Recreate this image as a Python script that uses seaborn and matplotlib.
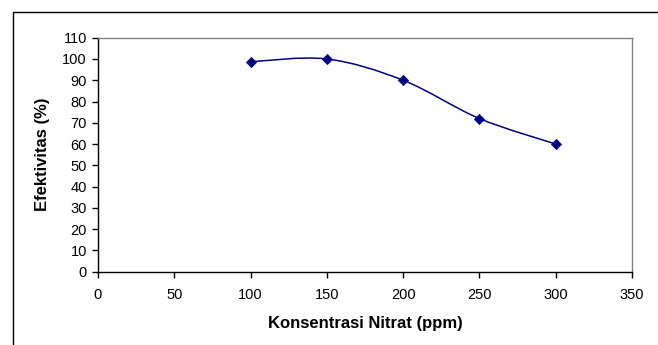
import numpy as np
import pandas as pd
import matplotlib
matplotlib.use("Agg")
import matplotlib.pyplot as plt
import seaborn as sns
from matplotlib.path import Path
from matplotlib.patches import PathPatch
from matplotlib.lines import Line2D

konsentrasi = [100, 150, 200, 250, 300]
efektivitas = [98.7, 100.0, 90.0, 72.0, 60.0]
x_ticks = [0, 50, 100, 150, 200, 250, 300, 350]
y_ticks = [0, 10, 20, 30, 40, 50, 60, 70, 80, 90, 100, 110]

sns.set_theme(style="white")
plt.rcParams['font.family'] = ['Liberation Sans', 'DejaVu Sans']
plt.rcParams['text.color'] = 'black'
plt.rcParams['axes.labelcolor'] = 'black'

df = pd.DataFrame({"Konsentrasi": konsentrasi, "Efektivitas": efektivitas})

fig = plt.figure(figsize=(6.58, 3.45), dpi=100)
ax = fig.add_axes([98/658, 1-271.7/345, 534/658, 234/345])

# smoothed curve (Excel-style Bezier through the points)
P = np.column_stack([konsentrasi, efektivitas]).astype(float)
n = len(P)
verts = [tuple(P[0])]
codes = [Path.MOVETO]
for i in range(n - 1):
    p0 = P[i - 1] if i > 0 else P[i]
    p1 = P[i]
    p2 = P[i + 1]
    p3 = P[i + 2] if i + 2 < n else P[i + 1]
    c1 = p1 + (p2 - p0) / 6
    c2 = p2 - (p3 - p1) / 6
    verts += [tuple(c1), tuple(c2), tuple(p2)]
    codes += [Path.CURVE4] * 3
ax.add_patch(PathPatch(Path(verts, codes), facecolor='none', edgecolor='#000080', lw=1.1, zorder=2))

sns.scatterplot(data=df, x="Konsentrasi", y="Efektivitas", marker='D', s=28,
                color='#000080', edgecolor='#000080', ax=ax, zorder=3, legend=False)

ax.set_xlim(0, 350)
ax.set_ylim(0, 110)
ax.set_xticks(x_ticks)
ax.set_yticks(y_ticks)
ax.set_xticklabels([str(v) for v in x_ticks], fontsize=10.5, color='black')
ax.set_yticklabels([str(v) for v in y_ticks], fontsize=10.5, color='black')
ax.tick_params(axis='both', direction='out', length=4, width=1, color='black',
               bottom=True, left=True)
ax.tick_params(axis='y', pad=4)
ax.tick_params(axis='x', pad=8)

ax.set_xlabel("Konsentrasi Nitrat (ppm)", fontsize=12, fontweight='bold', color='black')
ax.set_ylabel("Efektivitas (%)", fontsize=12, fontweight='bold', color='black')
ax.xaxis.set_label_coords(0.5, -0.19)
ax.yaxis.set_label_coords(-0.09, 0.5)

for s in ['left', 'bottom']:
    ax.spines[s].set_color('black')
    ax.spines[s].set_linewidth(1)
for s in ['top', 'right']:
    ax.spines[s].set_color('#808080')
    ax.spines[s].set_linewidth(1)
ax.grid(False)

# outer chart border (top and left visible)
fig.add_artist(Line2D([12.5/658, 12.5/658], [0, 1-11.5/345], transform=fig.transFigure, color='black', lw=1))
fig.add_artist(Line2D([12.5/658, 1], [1-11.5/345, 1-11.5/345], transform=fig.transFigure, color='black', lw=1))

fig.savefig("out.png", dpi=100, facecolor='white')
